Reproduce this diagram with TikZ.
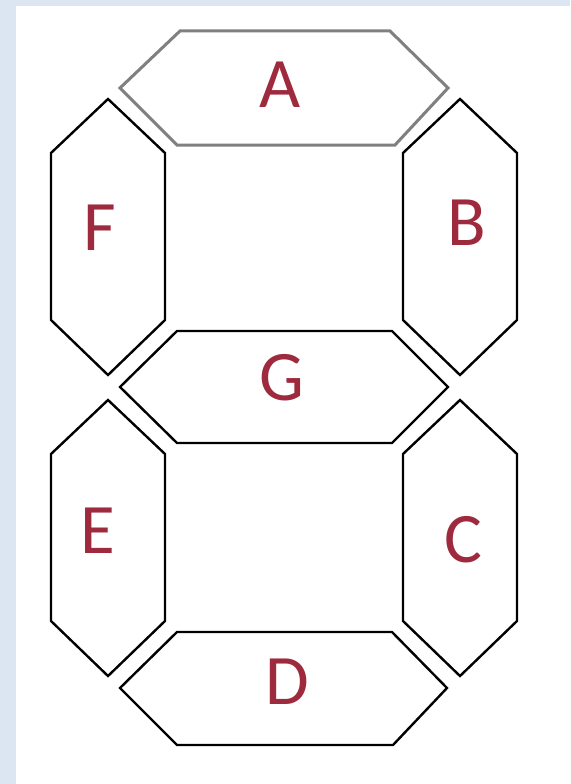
\documentclass[tikz,border=0pt]{standalone}
\usepackage{fontspec}
\setmainfont{Carlito}
\usepackage{xcolor}
\definecolor{frameblue}{RGB}{220,230,242}
\definecolor{seglabel}{RGB}{158,42,62}
\definecolor{seggray}{RGB}{128,128,128}

\begin{document}
\begin{tikzpicture}[x=1pt, y=-1pt,
    seg/.style={draw=black, line width=2.4pt, line join=miter, fill=white},
    topseg/.style={seg, draw=seggray, line width=3pt},
    lbl/.style={text=seglabel, inner sep=0pt,
      font=\fontsize{71}{71}\selectfont},
  ]
  % Frame
  \useasboundingbox (0,0) rectangle (570,784);
  \fill[frameblue] (0,0) rectangle (570,784);
  \fill[white] (16,6) rectangle (570,784);

  % Horizontal segments
  \draw[topseg] (180,31) -- (390,31) -- (448,88) -- (395,145)
    -- (177,145) -- (120,88) -- cycle;
  \draw[seg] (177,331) -- (392,331) -- (448,387) -- (392,443)
    -- (177,443) -- (120,387) -- cycle;
  \draw[seg] (177,632) -- (392,632) -- (447,688) -- (393,745)
    -- (177,745) -- (120,688) -- cycle;

  % Vertical segments
  \foreach \cx/\ty in {108/99, 460/99, 108/400, 460/400} {
    \draw[seg] (\cx,\ty) -- (\cx+57,\ty+54) -- (\cx+57,\ty+221)
      -- (\cx,\ty+276) -- (\cx-57,\ty+221) -- (\cx-57,\ty+54) -- cycle;
  }

  % Labels
  \node[lbl] (a) at (280,85)  {A};
  \node[lbl] (b) at (467,223) {B};
  \node[lbl] (c) at (463,540) {C};
  \node[lbl] (d) at (287,682) {D};
  \node[lbl] (e) at (98,531)  {E};
  \node[lbl] (f) at (100,228) {F};
  \node[lbl] (g) at (282,378) {G};
\end{tikzpicture}
\end{document}
